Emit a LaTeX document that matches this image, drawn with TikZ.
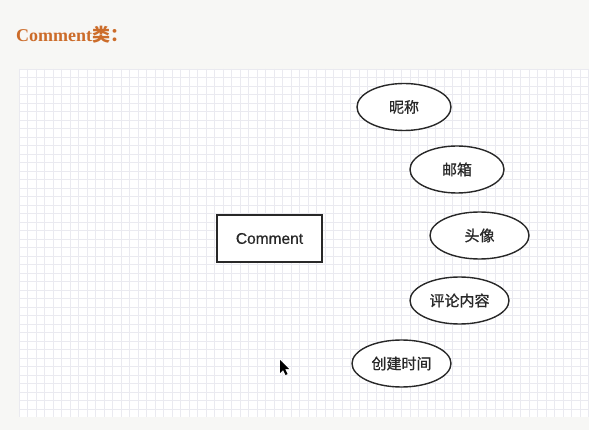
\documentclass[tikz,border=0pt]{standalone}
\usepackage{fontspec}
\setmainfont{Liberation Sans}
\newfontfamily\cjk[FakeBold=0.9]{Noto Sans CJK SC}
\newfontfamily\cjkt{Noto Sans CJK SC}
\newfontfamily\boxfont[FakeBold=0.6]{Liberation Sans}
\newfontfamily\titlefont{Liberation Serif}
\usetikzlibrary{shapes.geometric}
\definecolor{pagebg}{RGB}{247,247,245}
\definecolor{gridline}{RGB}{234,234,240}
\definecolor{titleor}{RGB}{204,108,42}
\definecolor{inkc}{RGB}{40,40,40}
\tikzset{
  attr/.style={ellipse, draw=inkc, line width=1.4pt, fill=white, minimum width=94pt, minimum height=47pt, inner sep=0pt, font=\cjk\fontsize{15}{17}\selectfont, text=inkc},
  classbox/.style={rectangle, draw=inkc, line width=1.3pt, fill=white, minimum width=105pt, minimum height=47pt, inner sep=0pt, font=\boxfont\fontsize{15.5}{17}\selectfont, text=inkc}
}
\begin{document}
\begin{tikzpicture}[x=1pt,y=-1pt]
\useasboundingbox (0,0) rectangle (589,430);
\fill[pagebg] (0,0) rectangle (589,430);
\fill[white] (19,69) rectangle (589,417);
\foreach \i in {0,...,67} {\draw[gridline, line width=0.6pt] ({19+8.5*\i},69) -- ({19+8.5*\i},417);}
\foreach \j in {0,...,40} {\draw[gridline, line width=0.6pt] (19,{69+8.5*\j}) -- (589,{69+8.5*\j});}
\node[anchor=west, text=titleor, inner sep=0pt] (title) at (16,35) {\titlefont\bfseries\fontsize{18}{21}\selectfont Comment{\cjkt\bfseries 类：}};
\node[classbox] (comment) at (269.5,238.5) {Comment};
\node[attr] (nick) at (404,107) {昵称};
\node[attr] (mail) at (457,169.5) {邮箱};
\node[attr, minimum width=99pt] (avatar) at (479.5,235.5) {头像};
\node[attr, minimum width=99pt] (content) at (459.5,300.5) {评论内容};
\node[attr, minimum width=99pt] (ctime) at (401.5,363.5) {创建时间};
\fill[black] (280,360) -- (280,373) -- (283,370) -- (285.5,375) -- (287.5,374) -- (285,369) -- (289,369) -- cycle;
\end{tikzpicture}
\end{document}
